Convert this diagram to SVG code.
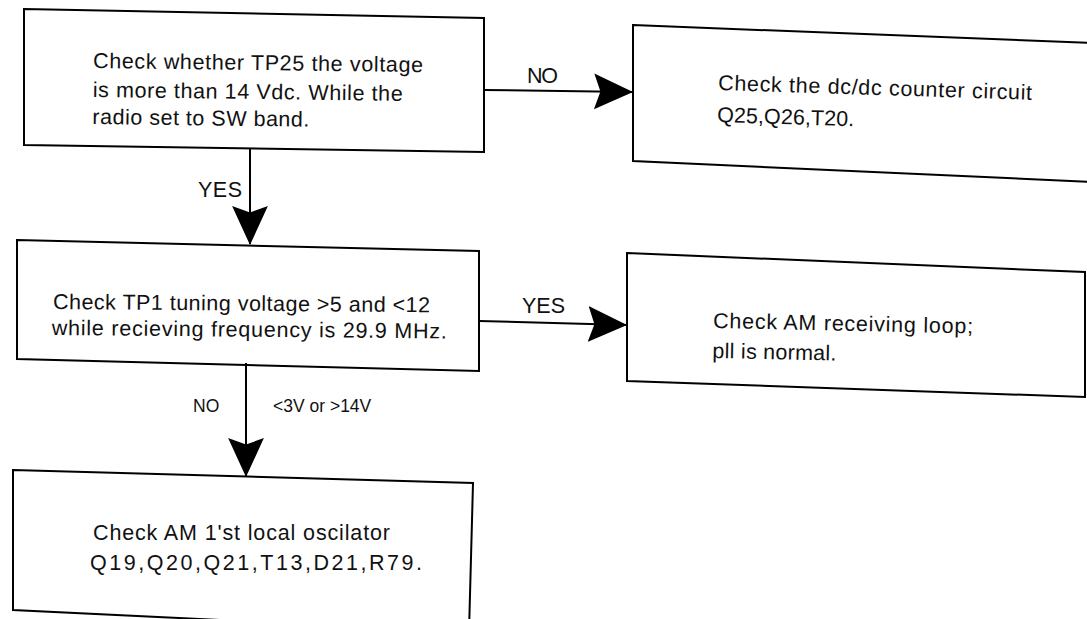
<svg xmlns="http://www.w3.org/2000/svg" width="1087" height="619" viewBox="0 0 1087 619">
<style>
.box{fill:#fff;stroke:#000;stroke-width:2}
.t{font-family:"Liberation Sans",Arial,Helvetica,sans-serif;font-size:21.5px;fill:#111}
.s{font-size:17.5px}
.c{fill:none;stroke:#000;stroke-width:2}
</style>
<defs>
<marker id="ah" markerUnits="userSpaceOnUse" markerWidth="40" markerHeight="40" viewBox="0 0 38 36" refX="36" refY="17" orient="auto">
<path d="M0,0 L37,17 L0,34 L6,17 Z" fill="#000"/>
</marker>
</defs>
<rect width="1087" height="619" fill="#fff"/>
<g id="n1">
<polygon class="box" points="24,9 484,18 484,152 24,145"/>
<g transform="rotate(0.7 93 68)">
<text class="t" x="93" y="68" textLength="330" lengthAdjust="spacing">Check whether TP25 the voltage</text>
<text class="t" x="93" y="97" textLength="310" lengthAdjust="spacing">is more than 14 Vdc. While the</text>
<text class="t" x="93" y="124" textLength="217" lengthAdjust="spacing">radio set to SW band.</text>
</g>
</g>
<g id="n2">
<polygon class="box" points="633,25 1092,43 1092,182 633,161"/>
<g transform="rotate(1.8 718 90)">
<text class="t" x="718" y="90" textLength="314" lengthAdjust="spacing">Check the dc/dc counter circuit</text>
<text class="t" x="718" y="122" textLength="137" lengthAdjust="spacing">Q25,Q26,T20.</text>
</g>
</g>
<g id="n3">
<polygon class="box" points="17,240 479,251 479,371 17,359"/>
<g transform="rotate(0.5 53 309)">
<text class="t" x="53" y="309" textLength="377" lengthAdjust="spacing">Check TP1 tuning voltage &gt;5 and &lt;12</text>
<text class="t" x="52" y="335" textLength="395" lengthAdjust="spacing">while recieving frequency is 29.9 MHz.</text>
</g>
</g>
<g id="n4">
<polygon class="box" points="627,253 1085,272 1085,397 627,381"/>
<g transform="rotate(1.2 713 328)">
<text class="t" x="713" y="328" textLength="260" lengthAdjust="spacing">Check AM receiving loop;</text>
<text class="t" x="713" y="358" textLength="124" lengthAdjust="spacing">pll is normal.</text>
</g>
</g>
<g id="n5">
<polygon class="box" points="13,470 473,483 469,632 13,610"/>
<text class="t" x="93" y="540" textLength="297" lengthAdjust="spacing">Check AM 1'st local oscilator</text>
<text class="t" x="90" y="570" textLength="332" lengthAdjust="spacing">Q19,Q20,Q21,T13,D21,R79.</text>
</g>
<g id="connectors">
<path class="c" d="M484,90 L632,92" marker-end="url(#ah)"/>
<path class="c" d="M250,149 L250,244" marker-end="url(#ah)"/>
<path class="c" d="M479,321 L626,325" marker-end="url(#ah)"/>
<path class="c" d="M246,363 L246,476" marker-end="url(#ah)"/>
<text class="t" x="527" y="83" textLength="31" lengthAdjust="spacing">NO</text>
<text class="t" x="198" y="197" textLength="44" lengthAdjust="spacing">YES</text>
<text class="t" x="522" y="313" textLength="43" lengthAdjust="spacing">YES</text>
<text class="t s" x="193" y="412">NO</text>
<text class="t s" x="273" y="412">&lt;3V or &gt;14V</text>
</g>
</svg>
